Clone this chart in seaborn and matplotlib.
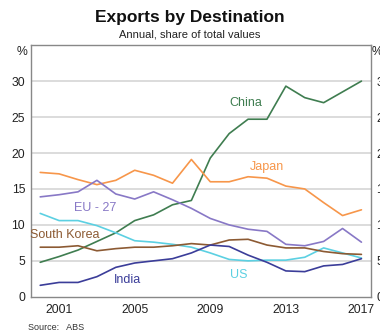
from matplotlib import pyplot as plt
import seaborn as sns
import pandas as pd
import numpy as np

years = list(range(2000, 2018))

china       = [4.8, 5.6, 6.5, 7.7, 8.9, 10.6, 11.4, 12.8, 13.4, 19.3, 22.7, 24.7, 24.7, 29.3, 27.7, 27.0, 28.5, 30.0]
japan       = [17.3, 17.1, 16.3, 15.6, 16.2, 17.6, 16.9, 15.8, 19.1, 16.0, 16.0, 16.7, 16.5, 15.4, 15.0, 13.1, 11.3, 12.1]
eu27        = [13.9, 14.2, 14.6, 16.2, 14.3, 13.6, 14.6, 13.5, 12.3, 10.9, 10.0, 9.4, 9.1, 7.3, 7.1, 7.7, 9.5, 7.6]
us          = [11.6, 10.6, 10.6, 9.9, 8.9, 7.8, 7.6, 7.3, 6.9, 6.1, 5.2, 5.0, 5.1, 5.1, 5.5, 6.8, 6.1, 5.4]
south_korea = [6.9, 6.9, 7.1, 6.4, 6.7, 6.9, 6.9, 7.1, 7.4, 7.2, 7.9, 8.0, 7.2, 6.8, 6.8, 6.3, 6.0, 5.9]
india       = [1.6, 2.0, 2.0, 2.8, 4.1, 4.7, 5.0, 5.3, 6.1, 7.2, 7.0, 5.8, 4.8, 3.6, 3.5, 4.3, 4.5, 5.3]

series = {'China': china, 'Japan': japan, 'EU - 27': eu27, 'US': us,
          'South Korea': south_korea, 'India': india}
colours = {'China': '#3f7d50', 'Japan': '#f7964a', 'EU - 27': '#8878c6',
           'US': '#5cd0e2', 'South Korea': '#8c5a33', 'India': '#3b3d99'}

df = pd.DataFrame({'year': np.tile(years, len(series)),
                   'share': np.concatenate([series[k] for k in series]),
                   'dest': np.repeat(list(series.keys()), len(years))})

sns.set_style('white')
plt.rcParams['font.family'] = ['Arial', 'Liberation Sans', 'DejaVu Sans']

fig = plt.figure(figsize=(3.8, 3.32), dpi=100)
ax = fig.add_axes([0.081, 0.106, 0.895, 0.758])

# horizontal grid
for y in range(5, 35, 5):
    ax.axhline(y, color='#d9d9d9', lw=1.3, zorder=0)

sns.lineplot(data=df, x='year', y='share', hue='dest', palette=colours,
             lw=1.2, legend=False, ax=ax)

ax.set_xlim(1999.5, 2017.5)
ax.set_ylim(0, 35)
ax.set_xlabel('')
ax.set_ylabel('')
ax.set_xticks([2001, 2005, 2009, 2013, 2017])
ax.set_xticks(np.arange(2000.5, 2017, 1), minor=True)
ax.tick_params(axis='x', which='major', length=0, labelsize=8.8, colors='#222222', pad=5)
ax.tick_params(axis='x', which='minor', direction='in', length=4, width=0.8, color='#666666')
ax.set_yticks(range(0, 35, 5))
ax.tick_params(axis='y', length=0, labelsize=8.8, colors='#222222', pad=4)
for s in ax.spines.values():
    s.set_color('#888888')
    s.set_linewidth(1.0)

# right axis repeats the scale (clipped by the figure edge, as in the original)
ax2 = ax.twinx()
ax2.set_ylim(0, 35)
ax2.set_yticks(range(0, 35, 5))
ax2.tick_params(axis='y', length=0, labelsize=8.8, colors='#222222', pad=4)
for s in ax2.spines.values():
    s.set_visible(False)

fig.text(0.058, 0.843, '%', fontsize=8.8, ha='center', va='center', color='#222222')
fig.text(0.992, 0.843, '%', fontsize=8.8, ha='center', va='center', color='#222222')

labels = {'China': (2010.9, 27.0), 'Japan': (2012, 18.1), 'EU - 27': (2002.9, 12.3),
          'South Korea': (2001.3, 8.6), 'India': (2004.6, 2.3), 'US': (2010.5, 3.1)}
for name, (lx, ly) in labels.items():
    ax.text(lx, ly, name, color=colours[name], fontsize=9, ha='center', va='center')

fig.text(0.5, 0.948, 'Exports by Destination', fontsize=12.5, fontweight='bold',
         ha='center', va='center', color='#111111')
fig.text(0.5, 0.895, 'Annual, share of total values', fontsize=8,
         ha='center', va='center', color='#222222')
fig.text(0.075, 0.014, 'Source:   ABS', fontsize=6.5, ha='left', va='center', color='#333333')

fig.savefig('out.png', dpi=100)
